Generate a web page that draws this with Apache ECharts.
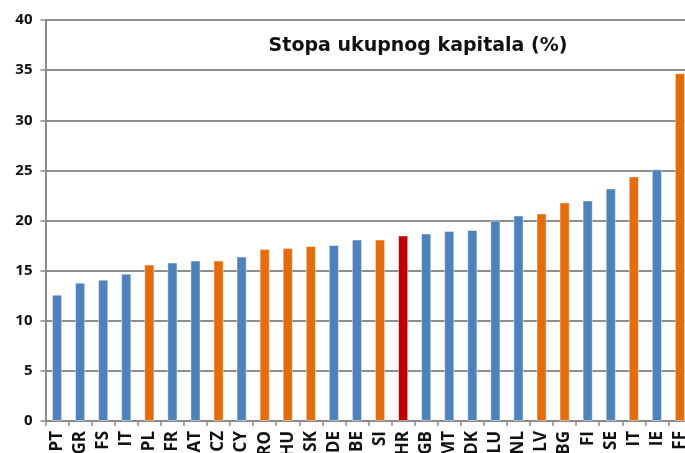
<!DOCTYPE html>
<html>
<head>
<meta charset="utf-8">
<script src="https://cdn.jsdelivr.net/npm/echarts@6/dist/echarts.min.js"></script>
<style>
html,body{margin:0;padding:0;background:#fff;}
#chart{width:685px;height:453px;}
</style>
</head>
<body>
<div id="chart"></div>
<script>
const titleText = 'Stopa ukupnog kapitala (%)';
const categories = ['PT','GR','FS','IT','PL','FR','AT','CZ','CY','RO','HU','SK','DE','BE','SI','HR','GB','MT','DK','LU','NL','LV','BG','FI','SE','IT','IE','FF'];
const values = [12.6,13.8,14.1,14.7,15.6,15.8,16.0,16.0,16.4,17.15,17.25,17.45,17.55,18.1,18.1,18.5,18.7,18.95,19.05,20.0,20.5,20.7,21.8,22.0,23.2,24.4,25.1,34.7];
const groups = ['a','a','a','a','b','a','a','b','a','b','b','b','a','a','b','c','a','a','a','a','a','b','b','a','a','b','a','b'];
const yTicks = [0,5,10,15,20,25,30,35,40];

const groupColors = {a:'#4F81BD', b:'#E46C0A', c:'#C00000'};

const chart = echarts.init(document.getElementById('chart'), null, {renderer:'canvas'});
chart.setOption({
  animation:false,
  backgroundColor:'#ffffff',
  title:{
    text:titleText,
    left:413, top:32, textAlign:'center',
    textStyle:{fontFamily:'"DejaVu Sans", sans-serif', fontWeight:'bold', fontSize:19, color:'#111'}
  },
  grid:{left:45.5, top:20, width:646, height:401, containLabel:false, outerBoundsMode:'none'},
  xAxis:{
    type:'category',
    data:categories,
    axisLine:{show:true, lineStyle:{color:'#8a8a8a', width:2}},
    axisTick:{show:true, alignWithLabel:false, length:5, lineStyle:{color:'#8a8a8a', width:1.5}},
    axisLabel:{rotate:90, interval:0, margin:10, fontFamily:'"Open Sans", sans-serif', fontWeight:'bold', fontSize:17, color:'#111'}
  },
  yAxis:{
    type:'value',
    min:yTicks[0], max:yTicks[yTicks.length-1], interval:5,
    axisLine:{show:true, lineStyle:{color:'#8a8a8a', width:2}},
    axisTick:{show:true, length:5, lineStyle:{color:'#8a8a8a', width:1.5}},
    splitLine:{show:true, lineStyle:{color:'#8e8e8e', width:2}},
    axisLabel:{margin:13, fontFamily:'"Open Sans", sans-serif', fontWeight:'bold', fontSize:15, color:'#111'}
  },
  series:[{
    type:'bar',
    barWidth:'44%',
    data:values.map((v,i)=>({value:v, itemStyle:{color:groupColors[groups[i]]}})),
    itemStyle:{borderColor:'rgba(255,255,255,0.45)', borderWidth:1}
  }]
});
</script>
</body>
</html>
